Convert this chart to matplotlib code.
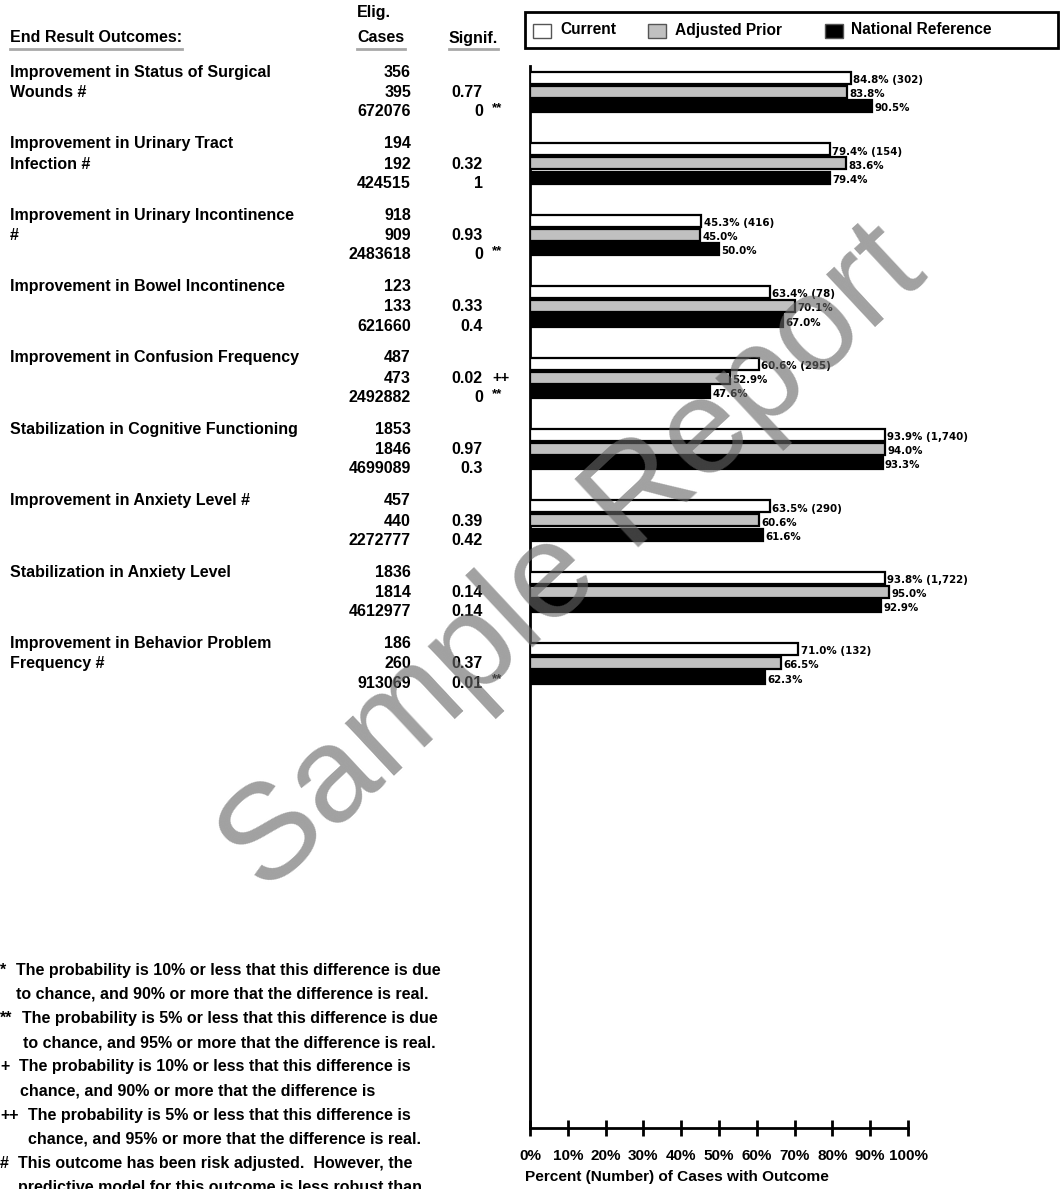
import matplotlib
matplotlib.use("Agg")
import matplotlib.pyplot as plt
from matplotlib.transforms import blended_transform_factory
from matplotlib.patches import Rectangle
from matplotlib.lines import Line2D

outcomes = ["Improvement in Status of Surgical\nWounds #",
            "Improvement in Urinary Tract\nInfection #",
            "Improvement in Urinary Incontinence\n#",
            "Improvement in Bowel Incontinence",
            "Improvement in Confusion Frequency",
            "Stabilization in Cognitive Functioning",
            "Improvement in Anxiety Level #",
            "Stabilization in Anxiety Level",
            "Improvement in Behavior Problem\nFrequency #"]
current = [84.8, 79.4, 45.3, 63.4, 60.6, 93.9, 63.5, 93.8, 71.0]
current_n = ["302", "154", "416", "78", "295", "1,740", "290", "1,722", "132"]
prior = [83.8, 83.6, 45.0, 70.1, 52.9, 94.0, 60.6, 95.0, 66.5]
national = [90.5, 79.4, 50.0, 67.0, 47.6, 93.3, 61.6, 92.9, 62.3]
cases_current = [356, 194, 918, 123, 487, 1853, 457, 1836, 186]
cases_prior = [395, 192, 909, 133, 473, 1846, 440, 1814, 260]
cases_nat = [672076, 424515, 2483618, 621660, 2492882, 4699089, 2272777, 4612977, 913069]
signif_prior = ["0.77", "0.32", "0.93", "0.33", "0.02", "0.97", "0.39", "0.14", "0.37"]
mark_prior = ["", "", "", "", "++", "", "", "", ""]
signif_nat = ["0", "1", "0", "0.4", "0", "0.3", "0.42", "0.14", "0.01"]
mark_nat = ["**", "", "**", "", "**", "", "", "", "**"]
xticks = [0, 10, 20, 30, 40, 50, 60, 70, 80, 90, 100]
xticklabels = ["0%", "10%", "20%", "30%", "40%", "50%", "60%", "70%", "80%", "90%", "100%"]
legend_labels = ["Current", "Adjusted Prior", "National Reference"]
footnotes = [
    ("*", "The probability is 10% or less that this difference is due", 16),
    ("", "to chance, and 90% or more that the difference is real.", 16),
    ("**", "The probability is 5% or less that this difference is due", 22),
    ("", "to chance, and 95% or more that the difference is real.", 23),
    ("+", "The probability is 10% or less that this difference is", 19),
    ("", "chance, and 90% or more that the difference is", 20),
    ("++", "The probability is 5% or less that this difference is", 28),
    ("", "chance, and 95% or more that the difference is real.", 28),
    ("#", "This outcome has been risk adjusted.  However, the", 18),
    ("", "predictive model for this outcome is less robust than", 18),
]

W, H = 1062, 1189
fig = plt.figure(figsize=(W / 100, H / 100), dpi=100)
FONT = "Liberation Sans"
FS = 11.5

def fx(px):
    return px / W

def fy(py):
    return 1 - py / H

ax = fig.add_axes([fx(530), fy(1128), fx(908) - fx(530), fy(66) - fy(1128)])
ax.set_xlim(0, 100)
ax.set_ylim(14.51, -0.364)

colors = ["white", "#c0c0c0", "black"]
offs = [-0.196, 0.0, 0.2]
series = [current, prior, national]
n = len(outcomes)
for s, (vals, c, o) in enumerate(zip(series, colors, offs)):
    ys = [i + o for i in range(n)]
    ax.barh(ys, vals, height=0.17, color=c, edgecolor="black", linewidth=1.6, zorder=3)
    for i, v in enumerate(vals):
        lab = f"{v:.1f}%" + (f" ({current_n[i]})" if s == 0 else "")
        ax.text(v + 0.6, i + o + 0.03, lab, ha="left", va="center", fontsize=7.4,
                fontweight="bold", family="DejaVu Sans", clip_on=False, zorder=4)

for side in ["top", "right"]:
    ax.spines[side].set_visible(False)
ax.spines["left"].set_linewidth(2)
ax.spines["bottom"].set_linewidth(2)
ax.set_yticks([])
ax.set_xticks(xticks)
ax.set_xticklabels(xticklabels, fontsize=11, fontweight="bold", family=FONT)
ax.tick_params(axis="x", direction="inout", length=12, width=2, pad=9)

# left table
tr = blended_transform_factory(fig.transFigure, ax.transData)
rows = [-0.275, 0.01, 0.28]
for i in range(n):
    lines = outcomes[i].split("\n")
    for k, ln in enumerate(lines):
        fig.text(fx(10), i + rows[k], ln, transform=tr, ha="left", va="center",
                 fontsize=FS, fontweight="bold", family=FONT)
    for k, val in enumerate([cases_current[i], cases_prior[i], cases_nat[i]]):
        fig.text(fx(411), i + rows[k], str(val), transform=tr, ha="right", va="center",
                 fontsize=FS, fontweight="bold", family=FONT)
    fig.text(fx(483), i + rows[1], signif_prior[i], transform=tr, ha="right", va="center",
             fontsize=FS, fontweight="bold", family=FONT)
    fig.text(fx(483), i + rows[2], signif_nat[i], transform=tr, ha="right", va="center",
             fontsize=FS, fontweight="bold", family=FONT)
    if mark_prior[i]:
        fig.text(fx(492), i + rows[1], mark_prior[i], transform=tr, ha="left", va="center",
                 fontsize=FS - 1, fontweight="bold", family=FONT)
    if mark_nat[i]:
        fig.text(fx(492), i + rows[2] - 0.05, mark_nat[i], transform=tr, ha="left", va="center",
                 fontsize=FS - 2, fontweight="bold", family=FONT)

# headers
fig.text(fx(357), fy(13), "Elig.", ha="left", va="center", fontsize=FS, fontweight="bold", family=FONT)
fig.text(fx(357), fy(38), "Cases", ha="left", va="center", fontsize=FS, fontweight="bold", family=FONT)
fig.text(fx(449), fy(38), "Signif.", ha="left", va="center", fontsize=FS, fontweight="bold", family=FONT)
fig.text(fx(10), fy(38), "End Result Outcomes:", ha="left", va="center", fontsize=FS, fontweight="bold", family=FONT)
for x0, x1 in [(10, 182), (357, 405), (449, 498)]:
    fig.add_artist(Line2D([fx(x0), fx(x1)], [fy(49), fy(49)], color="#a8a8a8", lw=2,
                          transform=fig.transFigure))

# legend
fig.add_artist(Rectangle((fx(525), fy(48)), fx(1058) - fx(525), fy(12) - fy(48), fill=False,
                         edgecolor="black", lw=2, transform=fig.transFigure))
for (x0, lx), c, lab in zip([(533, 560), (648, 675), (825, 851)], colors, legend_labels):
    fig.add_artist(Rectangle((fx(x0), fy(38)), fx(18), fy(24) - fy(38), facecolor=c,
                             edgecolor="#555555", lw=1, transform=fig.transFigure))
    fig.text(fx(lx), fy(30), lab, ha="left", va="center", fontsize=FS - 0.3, fontweight="bold", family=FONT)

# x label
fig.text(fx(525), fy(1177), "Percent (Number) of Cases with Outcome", ha="left", va="center",
         fontsize=11.1, fontweight="bold", family=FONT)

# footnotes
fy0 = 970
for j, (sym, txt, indent) in enumerate(footnotes):
    y = fy0 + j * 24.2
    if sym:
        fig.text(fx(0), fy(y), sym, ha="left", va="center", fontsize=FS, fontweight="bold", family=FONT)
    fig.text(fx(indent), fy(y), txt, ha="left", va="center", fontsize=FS, fontweight="bold", family=FONT)

# watermark
fig.text(fx(574), fy(560), "Sample Report", rotation=43, rotation_mode="anchor", ha="center",
         va="center", fontsize=98, color="#676767", alpha=0.62, family=FONT, zorder=10)

fig.savefig("out.png", dpi=100)
